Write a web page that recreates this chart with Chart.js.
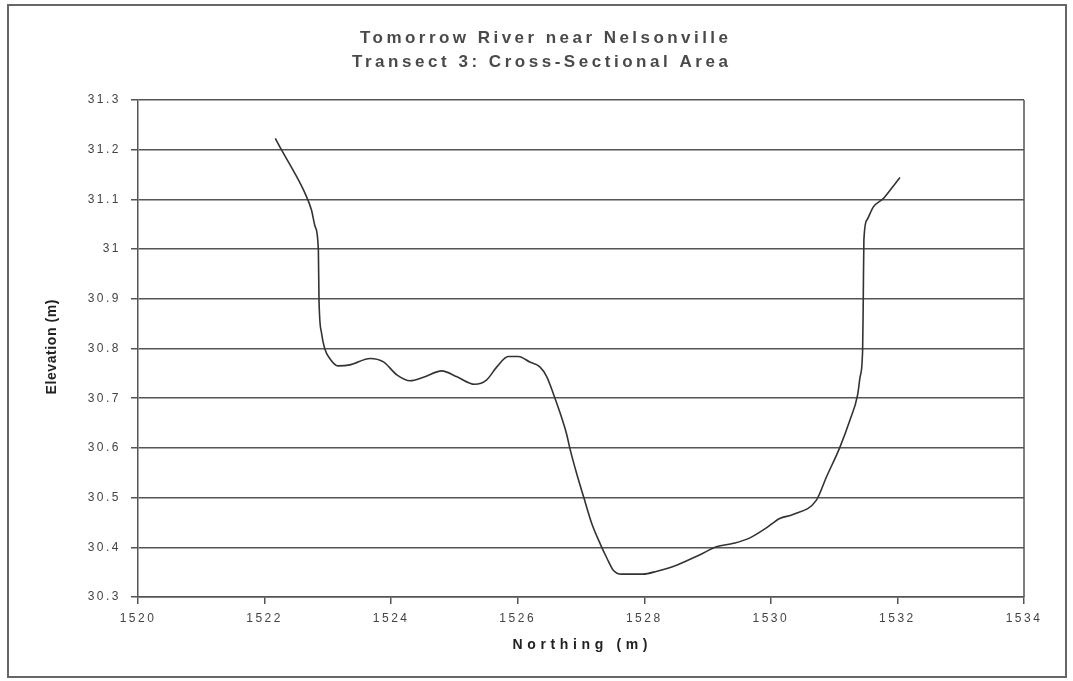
<!DOCTYPE html>
<html>
<head>
<meta charset="utf-8">
<script src="https://cdn.jsdelivr.net/npm/chart.js@4/dist/chart.umd.min.js"></script>
<style>
body{margin:0;background:#fff;}
#wrap{width:1073px;height:681px;position:relative;}
</style>
</head>
<body>
<div id="wrap"><canvas id="riverChart"></canvas></div>
<script>
// transect 3 profile
const northing=[1522.17,1522.27,1522.45,1522.64,1522.74,1522.80,1522.85,1522.86,1522.90,1522.95,1523.03,1523.16,1523.35,1523.67,1523.88,1524.09,1524.30,1524.51,1524.80,1525.04,1525.32,1525.51,1525.67,1525.85,1526.01,1526.19,1526.35,1526.46,1526.56,1526.67,1526.77,1526.83,1526.93,1527.04,1527.17,1527.30,1527.41,1527.51,1527.64,1527.98,1528.20,1528.51,1528.88,1529.14,1529.41,1529.67,1529.93,1530.14,1530.35,1530.72,1530.88,1531.09,1531.25,1531.37,1531.41,1531.45,1531.46,1531.47,1531.52,1531.62,1531.78,1531.93,1532.04];
const elevation=[31.223,31.199,31.159,31.112,31.079,31.045,30.998,30.898,30.831,30.800,30.780,30.765,30.767,30.780,30.773,30.747,30.735,30.742,30.755,30.743,30.728,30.737,30.763,30.784,30.784,30.773,30.763,30.743,30.710,30.670,30.629,30.596,30.549,30.502,30.448,30.408,30.378,30.354,30.346,30.346,30.352,30.364,30.385,30.401,30.408,30.419,30.439,30.458,30.466,30.495,30.542,30.601,30.656,30.706,30.743,30.797,30.898,31.018,31.059,31.085,31.102,31.126,31.144];
const xTicks=[1520,1522,1524,1526,1528,1530,1532,1534];
const yTicks=[30.3,30.4,30.5,30.6,30.7,30.8,30.9,31,31.1,31.2,31.3];
const titleLines=['Tomorrow River near Nelsonville','Transect 3: Cross-Sectional Area'];
const xTitle='Northing (m)';
const yTitle='Elevation (m)';

const pts=northing.map((x,i)=>({x:x,y:elevation[i]}));

// draw text stretched to a given width with letter spacing (excel-ish look)
function spaced(g,txt,cx,cy,w,font,color){
  g.font=font;g.letterSpacing='0px';
  const nat=g.measureText(txt).width;
  const ls=(w-nat)/(txt.length-1);
  g.letterSpacing=ls.toFixed(2)+'px';
  g.fillStyle=color;g.textAlign='left';g.textBaseline='middle';
  g.fillText(txt,cx-w/2,cy);
  g.letterSpacing='0px';
}

const frame={
  id:'frame',
  beforeDraw(c){
    const g=c.ctx;
    g.save();
    g.fillStyle='#fff';g.fillRect(0,0,c.width,c.height);
    g.strokeStyle='#666';g.lineWidth=2;
    g.strokeRect(8,5,1058,672);
    g.restore();
    g.letterSpacing='2.5px';
  },
  afterDraw(c){
    const a=c.chartArea,g=c.ctx;
    g.save();
    g.letterSpacing='0px';
    g.strokeStyle='#555';g.lineWidth=1.5;
    g.beginPath();g.moveTo(a.right,a.top);g.lineTo(a.right,a.bottom);g.stroke();
    spaced(g,titleLines[0],544,38,368,'bold 17px "Liberation Sans"','#4a4a4a');
    spaced(g,titleLines[1],540,62,376,'bold 17px "Liberation Sans"','#4a4a4a');
    spaced(g,xTitle,580,645,135,'bold 14px "Liberation Sans"','#222');
    g.translate(52,347);g.rotate(-Math.PI/2);
    spaced(g,yTitle,0,0,95,'bold 14px "Liberation Sans"','#222');
    g.restore();
  }
};

new Chart(document.getElementById('riverChart'),{
  type:'scatter',
  data:{datasets:[{data:pts,showLine:true,borderColor:'#333',borderWidth:1.6,pointRadius:0,cubicInterpolationMode:'monotone',fill:false}]},
  options:{
    responsive:true,maintainAspectRatio:false,animation:false,
    layout:{padding:{left:0,right:49,top:100,bottom:0}},
    plugins:{legend:{display:false},tooltip:{enabled:false},title:{display:false}},
    scales:{
      x:{type:'linear',min:1520,max:1534,
        afterBuildTicks:s=>{s.ticks=xTicks.map(v=>({value:v}));},
        afterFit:s=>{s.height=84;},
        ticks:{color:'#444',font:{family:'Liberation Sans',size:12},padding:7,callback:v=>String(v)},
        grid:{drawOnChartArea:false,drawTicks:true,tickLength:7,color:'#555',lineWidth:1.5},
        border:{display:true,color:'#555',width:1.5}
      },
      y:{min:30.3,max:31.3,
        afterBuildTicks:s=>{s.ticks=yTicks.map(v=>({value:v}));},
        afterFit:s=>{s.width=138;},
        ticks:{color:'#444',font:{family:'Liberation Sans',size:12},padding:10,callback:v=>String(Number(v.toFixed(1)))},
        grid:{color:'#555',lineWidth:1.5,tickLength:7,drawTicks:true},
        border:{display:true,color:'#555',width:1.5}
      }
    }
  },
  plugins:[frame]
});
</script>
</body>
</html>
